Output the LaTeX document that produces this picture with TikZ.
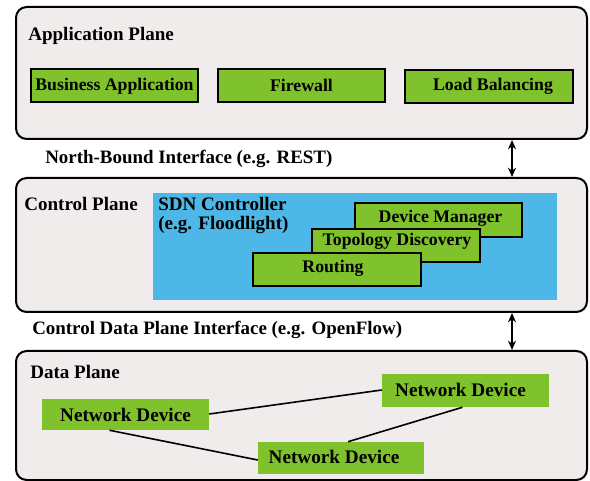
\documentclass[tikz,border=0pt]{standalone}
\usepackage{fontspec}
\setmainfont{Liberation Serif}
\usetikzlibrary{fit,calc,arrows.meta}
\definecolor{planegray}{HTML}{F0ECEC}
\definecolor{sdngreen}{HTML}{7FC22B}
\definecolor{sdnblue}{HTML}{4DB7E7}
\tikzset{
  plane/.style={draw=black, line width=1.5pt, rounded corners=8pt, fill=planegray, inner sep=0pt},
  appbox/.style={draw=black, line width=1.2pt, fill=sdngreen, inner sep=0pt},
  devbox/.style={draw=none, fill=sdngreen, inner sep=0pt},
  ctrlbox/.style={draw=none, fill=sdnblue, inner sep=0pt},
  boxtext/.style={inner sep=0pt, font=\fontsize{13.3}{15}\selectfont\bfseries},
  devtext/.style={inner sep=0pt, font=\fontsize{14.4}{16}\selectfont\bfseries},
  title/.style={anchor=west, inner sep=0pt, font=\fontsize{14.3}{16}\selectfont\bfseries},
  iface/.style={anchor=west, inner sep=0pt, font=\fontsize{14.2}{16}\selectfont\bfseries},
  link/.style={line width=1.2pt},
  biarrow/.style={line width=1pt, {Stealth[length=7pt,width=6pt]}-{Stealth[length=7pt,width=6pt]}}
}
\begin{document}
\begin{tikzpicture}[x=0.75pt,y=-0.75pt]
\useasboundingbox (0,0) rectangle (590,481);
% Application plane
\node[plane, fit={(16,7)(587,139)}] (app) {};
\node[title] (apptitle) at (28,36) {Application Plane};
\node[appbox, fit={(31,69)(198,102)}] (ba) {};
\node[boxtext] (bat) at ($(ba.center)+(0,1)$) {Business Application};
\node[appbox, fit={(218,69)(385,102)}] (fw) {};
\node[boxtext] (fwt) at (fw.center) {Firewall};
\node[appbox, fit={(405,70)(573,103)}] (lb) {};
\node[boxtext] (lbt) at ($(lb.center)+(4,0)$) {Load Balancing};
\node[iface] (nbi) at (45,159) {North-Bound Interface (e.g. REST)};
% Control plane
\node[plane, fit={(16,178)(587,312)}] (ctl) {};
\node[title] (ctltitle) at (24,204) {Control Plane};
\node[ctrlbox, fit={(153,193)(557,300)}] (sdn) {};
\node[title] (sdnt1) at (158,204) {SDN Controller};
\node[title] (sdnt2) at (158,225) {(e.g. Floodlight)};
\node[appbox, fit={(355,203)(522,237)}] (dm) {};
\node[boxtext] (dmt) at ($(dm.center)+(2,-2)$) {Device Manager};
\node[appbox, fit={(312,229)(480,262)}] (td) {};
\node[boxtext] (tdt) at ($(td.center)+(1,-4)$) {Topology Discovery};
\node[appbox, fit={(253,253)(421,286)}] (rt) {};
\node[boxtext] (rtt) at ($(rt.center)+(-4,-1)$) {Routing};
\node[iface] (cdpi) at (32,330) {Control Data Plane Interface (e.g. OpenFlow)};
% Data plane
\node[plane, fit={(16,351)(587,480)}] (dat) {};
\node[title] (dattitle) at (30,372) {Data Plane};
\node[devbox, fit={(42,399)(209,430)}] (nd1) {};
\node[devtext] (nd1t) at (nd1.center) {Network Device};
\node[devbox, fit={(382,374)(549,407)}] (nd2) {};
\node[devtext] (nd2t) at ($(nd2.center)+(-5,-1)$) {Network Device};
\node[devbox, fit={(258,442)(424,474)}] (nd3) {};
\node[devtext] (nd3t) at ($(nd3.center)+(-7,-1)$) {Network Device};
% links
\draw[link] ($(nd1.east)+(0,-0.5)$) -- ($(nd2.west)+(0,-0.5)$);
\draw[link] ($(nd1.south)+(-16,0)$) -- ($(nd3.west)+(0,2)$);
\draw[link] ($(nd2.south)+(-3,0)$) -- ($(nd3.north)+(7,0)$);
% arrows
\coordinate (ax) at (512,0);
\draw[biarrow] (app.south -| ax) -- (ctl.north -| ax);
\draw[biarrow] (ctl.south -| ax) -- (dat.north -| ax);
\end{tikzpicture}
\end{document}
